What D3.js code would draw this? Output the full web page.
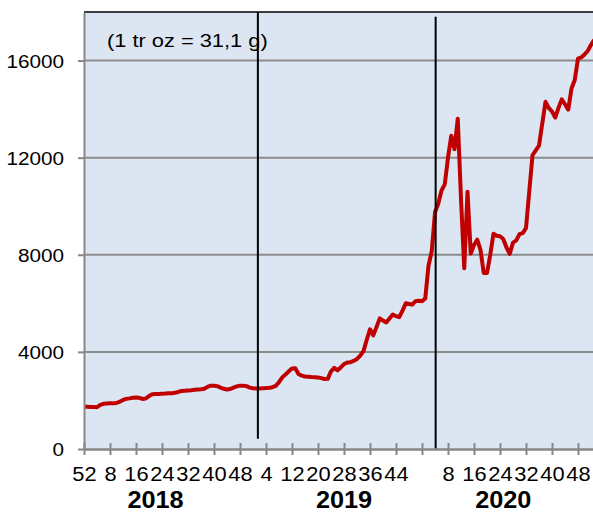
<!DOCTYPE html>
<html>
<head>
<meta charset="utf-8">
<script src="https://cdn.jsdelivr.net/npm/d3@7"></script>
<style>
	body { margin: 0; background: #fff; }
	text { font-family: "Liberation Sans", Arial, sans-serif; fill: #000; }
</style>
</head>
<body>
<div class="chart"></div>
<script>
// weekly price, week 52/2017 .. week 53/2020
const prices = [
	1745, 1740, 1730, 1725, 1720, 1820, 1860, 1870, 1880, 1885,
	1895, 1950, 2020, 2065, 2085, 2110, 2125, 2110, 2060, 2080,
	2180, 2255, 2265, 2270, 2280, 2285, 2295, 2300, 2315, 2350,
	2390, 2400, 2410, 2420, 2440, 2450, 2460, 2480, 2560, 2610,
	2605, 2590, 2530, 2480, 2450, 2470, 2530, 2580, 2610, 2605,
	2590, 2530, 2500, 2490, 2490, 2500, 2510, 2525, 2545, 2600,
	2750, 2950, 3070, 3200, 3320, 3330, 3090, 3020, 2985, 2975,
	2965, 2960, 2945, 2920, 2885, 2890, 3200, 3340, 3240, 3360,
	3500, 3560, 3575, 3630, 3710, 3850, 4030, 4500, 4930, 4680,
	5020, 5380, 5290, 5215, 5380, 5540, 5470, 5430, 5700, 6000,
	5975, 5950, 6090, 6110, 6090, 6200, 7550, 8150, 9750, 10100,
	10650, 10900, 12000, 12900, 12350, 13600, 10300, 7450, 10600, 8050,
	8400, 8620, 8200, 7250, 7250, 8000, 8870, 8780, 8760, 8650,
	8300, 8040, 8500, 8590, 8850, 8890, 9100, 10600, 12100, 12300,
	12500, 13400, 14300, 14050, 13900, 13650, 14050, 14400, 14200, 13980,
	14850, 15200, 16080, 16130, 16250, 16400, 16650, 16850
]

const tickWeeks = d3.range(0, 153, 8)
const tickLabels = ['52', '8', '16', '24', '32', '40', '48', '4', '12', '20', '28', '36', '44', '', '8', '16', '24', '32', '40', '48']
const years = ['2018', '2019', '2020']
const yearCenters = [22, 80, 129]
const yearBreaks = [53.5, 108.2]
const breakTops = [18000, 17800]
const breakBottoms = [420, 0]
const yTicks = [0, 4000, 8000, 12000, 16000]
const note = '(1 tr oz = 31,1 g)'

const width = 593
const height = 512
const plotLeft = 84
const plotTop = 12
const plotBottom = 449

const svg = d3.select('.chart')
	.append('svg')
	.attr('width', width)
	.attr('height', height)

const x = d3.scaleLinear()
	.domain([0, prices.length - 1])
	.range([plotLeft, plotLeft + 3.25 * (prices.length - 1)])

const y = d3.scaleLinear()
	.domain([0, 18000])
	.range([plotBottom, plotTop])

svg.append('defs')
	.append('clipPath')
	.attr('id', 'plot')
	.append('rect')
	.attr('x', plotLeft)
	.attr('y', plotTop)
	.attr('width', width - plotLeft)
	.attr('height', plotBottom - plotTop)

svg.append('rect')
	.attr('x', plotLeft)
	.attr('y', plotTop)
	.attr('width', width - plotLeft)
	.attr('height', plotBottom - plotTop)
	.attr('fill', '#dce6f2')

// gridlines
svg.append('g')
	.selectAll('line')
	.data(yTicks.slice(1))
	.enter()
	.append('line')
	.attr('x1', plotLeft)
	.attr('x2', width)
	.attr('y1', d => y(d))
	.attr('y2', d => y(d))
	.attr('stroke', '#8c8c8c')
	.attr('stroke-width', 2)

svg.append('text')
	.text(note)
	.attr('font-size', 18.5)
	.attr('transform', `translate(107,46.7) scale(1.18,1)`)

svg.append('path')
	.datum(prices)
	.attr('clip-path', 'url(#plot)')
	.attr('fill', 'none')
	.attr('stroke', '#c00000')
	.attr('stroke-width', 4)
	.attr('stroke-linejoin', 'round')
	.attr('d', d3.line().x((d, i) => x(i)).y(d => y(d)))

svg.append('g')
	.selectAll('line')
	.data(yearBreaks)
	.enter()
	.append('line')
	.attr('x1', d => x(d))
	.attr('x2', d => x(d))
	.attr('y1', (d, i) => y(breakTops[i]))
	.attr('y2', (d, i) => y(breakBottoms[i]))
	.attr('stroke', '#000')
	.attr('stroke-width', 2)

// frame top
svg.append('line')
	.attr('x1', plotLeft)
	.attr('x2', width)
	.attr('y1', plotTop)
	.attr('y2', plotTop)
	.attr('stroke', '#000')
	.attr('stroke-width', 1.5)

const yAxis = d3.axisLeft(y)
	.tickValues(yTicks)
	.tickFormat(d3.format('d'))
	.tickSizeInner(6)
	.tickSizeOuter(0)

svg.append('g')
	.attr('transform', `translate(${plotLeft},0)`)
	.call(yAxis)
	.call(g => g.select('.domain').attr('stroke', '#878787').attr('stroke-width', 2))
	.call(g => g.selectAll('.tick line').attr('stroke', '#878787').attr('stroke-width', 2))
	.call(g => g.selectAll('.tick text')
		.attr('font-size', 18.5)
		.attr('font-family', '"Liberation Sans", Arial, sans-serif')
		.attr('fill', '#000')
		.attr('x', -20 / 1.12)
		.attr('dy', '0.36em')
		.attr('transform', 'scale(1.12,1)'))

const xAxis = d3.axisBottom(x)
	.tickValues(tickWeeks)
	.tickFormat((d, i) => tickLabels[i])
	.tickSizeInner(6)
	.tickSizeOuter(0)

svg.append('g')
	.attr('transform', `translate(0,${plotBottom})`)
	.call(xAxis)
	.call(g => g.select('.domain').attr('stroke', '#878787').attr('stroke-width', 2.5))
	.call(g => g.selectAll('.tick line').attr('y1', -6).attr('stroke', '#878787').attr('stroke-width', 2))
	.call(g => g.selectAll('.tick text')
		.attr('font-size', 19.5)
		.attr('font-family', '"Liberation Sans", Arial, sans-serif')
		.attr('fill', '#000')
		.attr('y', 32.5)
		.attr('dy', 0)
		.attr('transform', 'scale(1.12,1)'))

svg.append('g')
	.selectAll('text')
	.data(years)
	.enter()
	.append('text')
	.text(d => d)
	.attr('font-size', 23)
	.attr('font-weight', 'bold')
	.attr('text-anchor', 'middle')
	.attr('transform', (d, i) => `translate(${x(yearCenters[i])},508) scale(1.1,1)`)
</script>
</body>
</html>
